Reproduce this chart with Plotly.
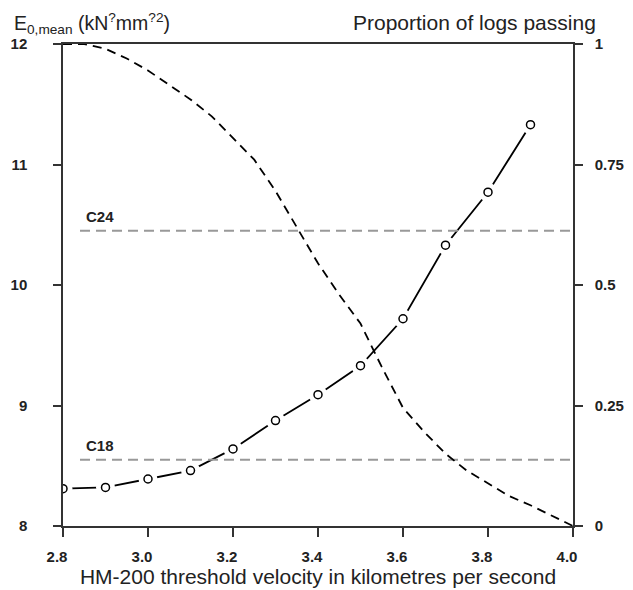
import plotly.graph_objects as go

# Data
velocity = [2.8, 2.9, 3.0, 3.1, 3.2, 3.3, 3.4, 3.5, 3.6, 3.7, 3.8, 3.9]
e_mean = [8.31, 8.32, 8.39, 8.46, 8.64, 8.875, 9.09, 9.33, 9.72, 10.33, 10.77, 11.33]

prop_velocity = [2.80, 2.85, 2.90, 2.95, 3.00, 3.05, 3.10, 3.15, 3.20, 3.25, 3.30, 3.35,
                 3.40, 3.45, 3.50, 3.55, 3.60, 3.65, 3.70, 3.75, 3.80, 3.85, 3.90, 3.95, 4.00]
prop_passing = [1.0, 1.0, 0.99, 0.97, 0.945, 0.915, 0.885, 0.85, 0.805, 0.76, 0.695, 0.62,
                0.545, 0.48, 0.42, 0.33, 0.245, 0.195, 0.15, 0.115, 0.088, 0.062, 0.043, 0.022, 0.0]

grade_names = ["C24", "C18"]
grade_values = [10.45, 8.55]
grade_x = [2.84, 4.0]

x_ticks = [2.8, 3.0, 3.2, 3.4, 3.6, 3.8, 4.0]
x_ticklabels = ["2.8", "3.0", "3.2", "3.4", "3.6", "3.8", "4.0"]
y_ticks = [8, 9, 10, 11, 12]
y2_ticks = [0, 0.25, 0.5, 0.75, 1]
y2_ticklabels = ["0", "0.25", "0.5", "0.75", "1"]

FONT = "Liberation Sans, Arial, sans-serif"
AX = "#333333"
TXT = "#222222"

fig = go.Figure()

# solid line with gaps around points (R type="b" look)
fig.add_trace(go.Scatter(x=velocity, y=e_mean, mode="lines",
                         line=dict(color="black", width=1.8), hoverinfo="skip", showlegend=False))
fig.add_trace(go.Scatter(x=velocity, y=e_mean, mode="markers",
                         marker=dict(symbol="circle", size=19, color="white",
                                     line=dict(color="white", width=0)),
                         hoverinfo="skip", showlegend=False))

# grade reference lines
for name, val in zip(grade_names, grade_values):
    fig.add_trace(go.Scatter(x=grade_x, y=[val, val], mode="lines",
                             line=dict(color="#999999", width=2, dash="10px,6px"),
                             hoverinfo="skip", showlegend=False))
    fig.add_annotation(x=grade_x[0], y=val, text="<b>" + name + "</b>", showarrow=False,
                       xanchor="left", yanchor="bottom", xshift=4, yshift=4,
                       font=dict(family=FONT, size=15, color=TXT))

fig.add_trace(go.Scatter(x=velocity, y=e_mean, mode="markers",
                         marker=dict(symbol="circle-open", size=8, color="black",
                                     line=dict(color="black", width=1.5)),
                         showlegend=False))

# proportion of logs passing (secondary axis)
fig.add_trace(go.Scatter(x=prop_velocity, y=prop_passing, mode="lines", yaxis="y2",
                         line=dict(color="black", width=1.8, dash="9px,6px"),
                         showlegend=False))

fig.update_layout(
    width=625, height=582,
    margin=dict(l=55, r=60, t=36, b=64),
    paper_bgcolor="white", plot_bgcolor="white",
    font=dict(family=FONT, color=TXT),
    xaxis=dict(range=[2.8, 4.0], tickvals=x_ticks, ticktext=x_ticklabels, automargin=False,
               showgrid=False, zeroline=False, showline=True, linecolor=AX, linewidth=1.5,
               mirror=True, ticks="outside", ticklen=9, tickwidth=1.5, tickcolor=AX,
               ticklabelstandoff=7, ticklabelshift=-6,
               tickfont=dict(family=FONT, size=15, color=TXT, weight="bold"),
               title=dict(text="HM-200 threshold velocity in kilometres per second",
                          font=dict(family=FONT, size=21, color=TXT), standoff=2)),
    yaxis=dict(range=[8, 12], tickvals=y_ticks, automargin=False,
               showgrid=False, zeroline=False, showline=True, linecolor=AX, linewidth=1.5,
               ticks="outside", ticklen=8, tickwidth=1.5, tickcolor=AX,
               ticklabelstandoff=23,
               tickfont=dict(family=FONT, size=15, color=TXT, weight="bold")),
    yaxis2=dict(range=[0, 1], tickvals=y2_ticks, ticktext=y2_ticklabels, automargin=False,
                overlaying="y", side="right",
                showgrid=False, zeroline=False, showline=True, linecolor=AX, linewidth=1.5,
                ticks="outside", ticklen=8, tickwidth=1.5, tickcolor=AX,
                ticklabelstandoff=9,
                tickfont=dict(family=FONT, size=15, color=TXT, weight="bold")),
)

fig.add_annotation(xref="paper", yref="paper", x=0, y=1, xshift=-51, yshift=36,
                   xanchor="left", yanchor="top", showarrow=False,
                   text="E<sub>0,mean</sub> (kN<sup>?</sup>mm<sup>?2</sup>)",
                   font=dict(family=FONT, size=19.5, color=TXT))
fig.add_annotation(xref="paper", yref="paper", x=1, y=1, xshift=25, yshift=35,
                   xanchor="right", yanchor="top", showarrow=False,
                   text="Proportion of logs passing",
                   font=dict(family=FONT, size=21, color=TXT))

fig.write_html("out.html")
